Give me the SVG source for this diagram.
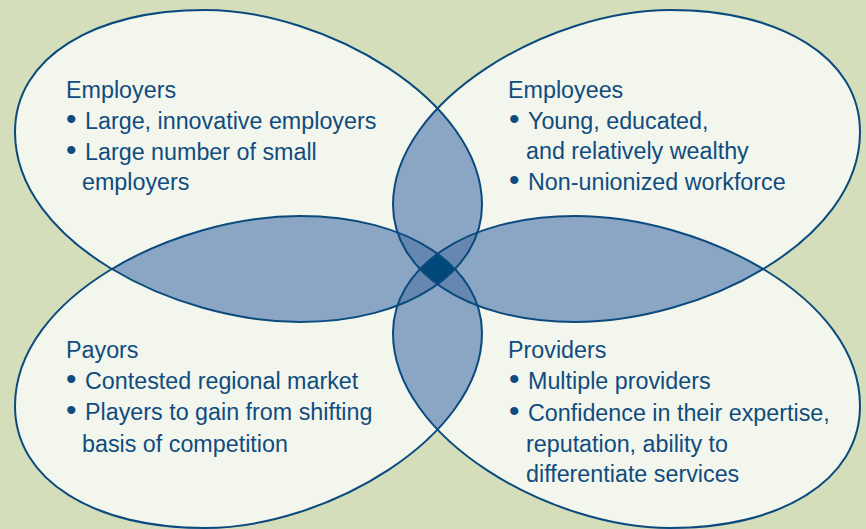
<svg xmlns="http://www.w3.org/2000/svg" xmlns:xlink="http://www.w3.org/1999/xlink" width="866" height="529" viewBox="0 0 866 529">
<style>
.bg{fill:#d4deba}
.f1{fill:#f3f6ec}
.f2{fill:#8ba5c4}
.f3{fill:#6688b0}
.f4{fill:#00487a}
.ol{fill:none;stroke:#0b4a7e;stroke-width:2}
text{font-family:"Liberation Sans",Arial,sans-serif;font-size:23.3px;fill:#104c7f}
.b{font-size:30px}
</style>
<defs>
<path id="s" d="M15,132 C15,57 95,10 205,10 C325,10 482,100 482,205 C482,270 410,322 300,322 C175,322 15,242 15,132 Z"/>
<clipPath id="c2"><use href="#s" transform="matrix(-1 0 0 1 875 0)"/></clipPath>
<clipPath id="c3"><use href="#s" transform="matrix(1 0 0 -1 0 538)"/></clipPath>
<clipPath id="c4"><use href="#s" transform="matrix(-1 0 0 -1 875 538)"/></clipPath>
</defs>
<rect class="bg" x="0" y="0" width="866" height="529"/>
<g id="fills" class="f1">
<use href="#s"/>
<use href="#s" transform="matrix(-1 0 0 1 875 0)"/>
<use href="#s" transform="matrix(1 0 0 -1 0 538)"/>
<use href="#s" transform="matrix(-1 0 0 -1 875 538)"/>
</g>
<g id="overlaps">
<g class="f2">
<g clip-path="url(#c2)"><use href="#s"/></g>
<g clip-path="url(#c3)"><use href="#s"/></g>
<g clip-path="url(#c4)"><use href="#s"/></g>
<g clip-path="url(#c3)"><use href="#s" transform="matrix(-1 0 0 1 875 0)"/></g>
<g clip-path="url(#c4)"><use href="#s" transform="matrix(-1 0 0 1 875 0)"/></g>
<g clip-path="url(#c4)"><use href="#s" transform="matrix(1 0 0 -1 0 538)"/></g>
</g>
<g class="f3">
<g clip-path="url(#c3)"><g clip-path="url(#c2)"><use href="#s"/></g></g>
<g clip-path="url(#c4)"><g clip-path="url(#c2)"><use href="#s"/></g></g>
<g clip-path="url(#c4)"><g clip-path="url(#c3)"><use href="#s"/></g></g>
<g clip-path="url(#c4)"><g clip-path="url(#c3)"><use href="#s" transform="matrix(-1 0 0 1 875 0)"/></g></g>
</g>
<g class="f4">
<g clip-path="url(#c4)"><g clip-path="url(#c3)"><g clip-path="url(#c2)"><use href="#s"/></g></g></g>
</g>
</g>
<g id="employers">
<use class="ol" href="#s"/>
<text x="66" y="97.5">Employers</text>
<text y="128.5"><tspan class="b" x="66">•</tspan><tspan x="85">Large, innovative employers</tspan></text>
<text y="159.5"><tspan class="b" x="66">•</tspan><tspan x="85">Large number of small</tspan></text>
<text x="82" y="190">employers</text>
</g>
<g id="employees">
<use class="ol" href="#s" transform="matrix(-1 0 0 1 875 0)"/>
<text x="508" y="97.5">Employees</text>
<text y="128.5"><tspan class="b" x="509">•</tspan><tspan x="528">Young, educated,</tspan></text>
<text x="526" y="159">and relatively wealthy</text>
<text y="190"><tspan class="b" x="509">•</tspan><tspan x="528">Non-unionized workforce</tspan></text>
</g>
<g id="payors">
<use class="ol" href="#s" transform="matrix(1 0 0 -1 0 538)"/>
<text x="66" y="358">Payors</text>
<text y="389"><tspan class="b" x="66">•</tspan><tspan x="85">Contested regional market</tspan></text>
<text y="420"><tspan class="b" x="66">•</tspan><tspan x="85">Players to gain from shifting</tspan></text>
<text x="82" y="451.5">basis of competition</text>
</g>
<g id="providers">
<use class="ol" href="#s" transform="matrix(-1 0 0 -1 875 538)"/>
<text x="508" y="358">Providers</text>
<text y="389"><tspan class="b" x="509">•</tspan><tspan x="528">Multiple providers</tspan></text>
<text y="421"><tspan class="b" x="509">•</tspan><tspan x="528">Confidence in their expertise,</tspan></text>
<text x="526" y="451.5">reputation, ability to</text>
<text x="526" y="482">differentiate services</text>
</g>
<g id="connectors"></g>
</svg>
